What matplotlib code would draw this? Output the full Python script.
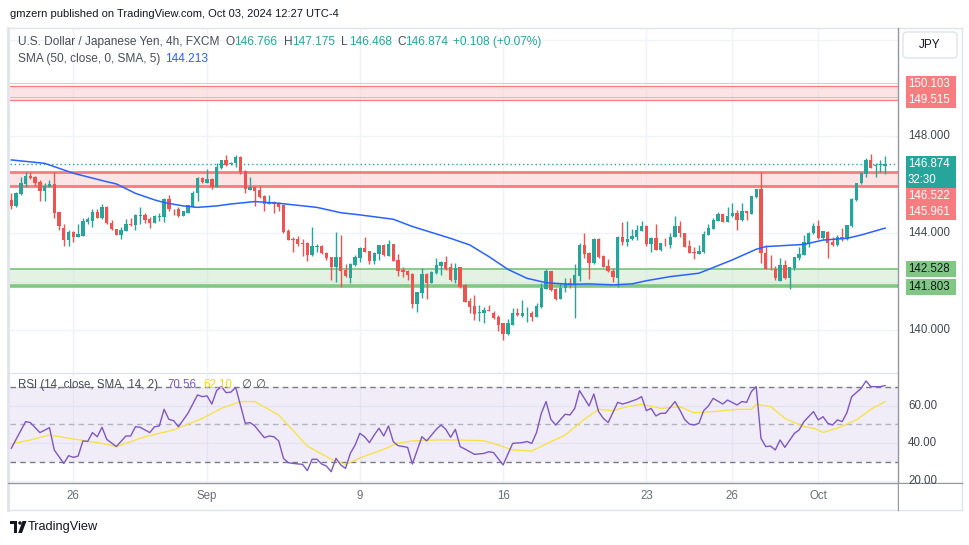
import numpy as np
import matplotlib
matplotlib.use("Agg")
from matplotlib import pyplot as plt
from matplotlib.patches import Rectangle, FancyBboxPatch, Polygon, Circle

plt.rcParams['font.family'] = ['Liberation Sans', 'DejaVu Sans']

# USD/JPY 4h candles (FXCM), oldest first
opens = [145.38, 145.13, 145.63, 146.04, 146.37, 146.34, 146.13, 145.76, 145.93, 146.04,
         144.87, 144.21, 143.72, 144.04, 143.86, 143.90, 144.48, 144.51, 144.88, 144.62,
         145.07, 144.44, 144.18, 143.93, 144.11, 144.39, 144.34, 144.73, 144.76, 144.59,
         144.44, 144.69, 144.69, 145.40, 145.02, 144.99, 144.73, 144.85, 145.13, 145.65,
         146.27, 146.09, 146.25, 145.93, 146.70, 147.03, 146.88, 146.89, 147.17, 146.59,
         145.79, 145.90, 145.79, 145.52, 145.20, 145.29, 145.27, 145.17, 144.11, 143.77,
         143.77, 143.60, 143.60, 143.10, 143.45, 143.48, 143.17, 143.01, 142.62, 143.01,
         142.48, 142.14, 142.69, 142.99, 143.39, 143.27, 142.87, 143.15, 143.52, 143.06,
         143.56, 142.90, 142.48, 142.46, 142.32, 141.08, 141.55, 142.32, 141.96, 142.37,
         142.66, 142.82, 142.60, 142.07, 142.60, 141.87, 141.20, 141.00, 140.72, 140.69,
         140.83, 140.72, 140.56, 140.28, 139.84, 140.21, 140.69, 140.60, 140.69, 140.72,
         140.56, 140.97, 141.71, 142.44, 141.69, 141.29, 141.73, 141.93, 141.87, 142.24,
         143.52, 143.20, 142.79, 143.75, 143.06, 142.65, 142.46, 142.17, 143.83, 143.66,
         143.75, 143.86, 144.11, 144.30, 143.56, 143.79, 143.31, 143.61, 143.52, 143.86,
         144.30, 144.00, 143.48, 143.24, 143.16, 143.23, 143.94, 144.19, 144.52, 144.80,
         144.48, 144.70, 144.84, 144.55, 144.90, 144.80, 145.49, 145.83, 143.17, 142.54,
         142.54, 142.04, 142.69, 142.14, 142.55, 142.97, 143.12, 143.61, 144.00, 144.30,
         143.81, 144.07, 143.66, 143.52, 143.83, 143.75, 144.32, 145.38, 146.07, 146.45,
         147.03, 146.80, 146.82, 146.766]
highs = [145.68, 145.72, 146.34, 146.55, 146.53, 146.37, 146.20, 146.07, 146.20, 146.55,
         144.87, 144.39, 144.14, 144.11, 144.39, 144.62, 144.69, 144.99, 144.99, 145.20,
         145.13, 144.55, 144.18, 144.25, 144.59, 144.62, 144.80, 145.10, 144.83, 144.69,
         144.76, 144.83, 145.47, 145.58, 145.02, 145.07, 144.94, 145.17, 145.76, 146.31,
         146.31, 146.64, 146.29, 146.92, 147.03, 147.24, 146.96, 147.24, 147.21, 146.62,
         146.31, 145.96, 145.96, 145.58, 145.58, 145.34, 145.31, 145.17, 144.17, 143.83,
         143.89, 143.75, 143.66, 144.26, 143.56, 143.50, 143.24, 143.04, 144.07, 143.93,
         142.73, 142.76, 143.10, 143.45, 143.83, 143.28, 143.24, 143.52, 143.56, 143.72,
         143.56, 143.15, 142.60, 142.48, 142.35, 141.56, 142.55, 142.35, 142.46, 142.97,
         142.87, 143.06, 142.79, 142.76, 142.62, 141.91, 141.31, 141.45, 141.02, 140.97,
         141.05, 140.80, 140.63, 140.31, 140.45, 140.90, 140.90, 141.25, 140.97, 140.80,
         141.13, 141.96, 142.51, 142.46, 141.73, 141.96, 142.14, 142.14, 142.73, 143.59,
         144.00, 143.24, 143.79, 143.79, 143.10, 142.93, 142.55, 143.89, 144.48, 144.51,
         144.18, 144.34, 144.51, 144.34, 143.83, 144.39, 143.61, 143.79, 144.00, 144.72,
         144.52, 144.03, 143.72, 143.45, 143.50, 144.11, 144.39, 144.62, 144.88, 144.80,
         145.10, 145.27, 144.95, 145.27, 144.94, 145.52, 145.83, 146.55, 143.52, 143.09,
         142.65, 142.99, 142.90, 142.62, 143.04, 143.42, 143.93, 144.07, 144.44, 144.55,
         144.10, 144.11, 143.83, 143.93, 144.21, 144.34, 145.45, 146.09, 146.55, 147.10,
         147.28, 146.89, 147.03, 147.175]
lows = [145.01, 145.07, 145.58, 145.90, 146.23, 145.96, 145.35, 145.35, 145.90, 144.65,
        144.14, 143.49, 143.49, 143.66, 143.83, 143.90, 144.39, 144.28, 144.62, 144.58,
        144.39, 144.14, 143.93, 143.75, 144.11, 144.30, 144.14, 144.39, 144.44, 144.23,
        144.41, 144.50, 144.48, 144.94, 144.76, 144.69, 144.72, 144.83, 145.10, 145.35,
        146.07, 146.07, 145.82, 145.93, 146.67, 146.80, 146.82, 146.73, 146.45, 145.68,
        145.79, 145.14, 145.46, 144.94, 145.20, 144.83, 144.90, 144.03, 143.72, 143.24,
        143.49, 143.08, 142.87, 143.08, 143.24, 143.15, 142.90, 142.07, 142.00, 141.80,
        142.21, 141.96, 142.65, 142.83, 143.21, 142.72, 142.72, 142.90, 143.06, 143.06,
        142.84, 142.24, 142.18, 142.07, 140.90, 140.76, 141.33, 141.30, 141.93, 142.32,
        142.29, 142.48, 142.03, 141.96, 141.75, 141.16, 140.69, 140.42, 140.38, 140.31,
        140.78, 140.46, 139.98, 139.59, 139.79, 140.21, 140.60, 140.56, 140.35, 140.39,
        140.53, 140.90, 141.71, 141.63, 141.25, 141.29, 141.59, 141.75, 140.49, 142.03,
        142.97, 142.10, 142.72, 142.99, 142.60, 142.40, 142.00, 141.80, 143.52, 143.49,
        143.72, 143.72, 144.08, 143.49, 143.21, 143.31, 143.27, 143.46, 143.41, 143.83,
        143.83, 143.42, 143.17, 142.93, 143.15, 143.20, 143.92, 144.17, 144.50, 144.47,
        144.45, 144.67, 144.14, 144.52, 144.54, 144.79, 145.47, 142.79, 142.51, 142.48,
        142.07, 142.04, 142.11, 141.69, 142.48, 142.90, 143.09, 143.42, 143.97, 143.78,
        143.78, 142.99, 143.49, 143.49, 143.70, 143.72, 144.28, 145.35, 146.04, 146.34,
        146.69, 146.34, 146.55, 146.468]
closes = [145.13, 145.68, 146.09, 146.37, 146.29, 146.09, 145.76, 145.96, 146.04, 144.85,
          144.32, 143.72, 144.04, 143.86, 143.97, 144.51, 144.58, 144.88, 144.65, 145.07,
          144.41, 144.17, 143.94, 144.14, 144.39, 144.33, 144.76, 144.76, 144.55, 144.44,
          144.72, 144.72, 145.40, 145.02, 144.99, 144.73, 144.90, 145.17, 145.68, 146.27,
          146.11, 146.25, 145.93, 146.73, 147.03, 146.84, 146.91, 147.17, 146.55, 145.82,
          145.90, 145.76, 145.49, 145.20, 145.31, 145.21, 145.10, 144.07, 143.72, 143.74,
          143.57, 143.57, 143.10, 143.48, 143.49, 143.17, 142.99, 142.62, 143.01, 142.46,
          142.24, 142.73, 143.04, 143.38, 143.24, 142.87, 143.17, 143.52, 143.10, 143.56,
          142.87, 142.46, 142.42, 142.28, 141.08, 141.56, 142.32, 141.96, 142.42, 142.69,
          142.82, 142.54, 142.07, 142.55, 141.80, 141.18, 140.97, 140.67, 140.75, 140.83,
          140.80, 140.52, 140.21, 139.84, 140.28, 140.69, 140.63, 140.69, 140.72, 140.56,
          141.00, 141.75, 142.44, 141.66, 141.29, 141.75, 141.93, 141.87, 142.28, 143.52,
          143.15, 142.79, 143.75, 143.04, 142.62, 142.43, 142.18, 143.86, 143.66, 143.75,
          143.89, 144.14, 144.30, 143.56, 143.79, 143.31, 143.59, 143.59, 143.86, 144.30,
          144.00, 143.45, 143.20, 143.17, 143.27, 143.97, 144.22, 144.55, 144.80, 144.48,
          144.73, 144.84, 144.55, 144.90, 144.83, 145.52, 145.83, 143.17, 142.51, 142.51,
          142.14, 142.69, 142.14, 142.60, 143.01, 143.15, 143.64, 144.03, 144.30, 143.81,
          144.10, 143.61, 143.52, 143.83, 143.75, 144.34, 145.42, 146.07, 146.48, 147.03,
          146.71, 146.82, 146.84, 146.874]

# SMA(50) line, sampled at candle indices
sma_idx = [0, 7, 13, 20, 22, 26, 30, 32, 36, 39, 43, 46, 51, 56, 64, 69, 73, 80, 84, 92,
           96, 100, 104, 108, 112, 117, 121, 126, 130, 133, 138, 144, 151, 156, 158, 166,
           170, 175, 178, 183]
sma_val = [147.03, 146.89, 146.48, 146.13, 146.04, 145.65, 145.38, 145.27, 145.13, 145.07,
           145.13, 145.21, 145.31, 145.24, 145.07, 144.85, 144.76, 144.58, 144.28, 143.79,
           143.52, 143.04, 142.51, 142.14, 141.96, 141.89, 141.91, 141.87, 141.91, 142.04,
           142.21, 142.35, 142.90, 143.34, 143.45, 143.54, 143.72, 143.79, 143.93, 144.213]

# RSI(14) and its SMA(14)
rsi_idx = [0, 3, 4, 6, 8, 9, 11, 12, 13, 14, 15, 16, 17, 18, 19, 20, 22, 24, 25, 26,
           27, 29, 30, 31, 32, 33, 34, 35, 36, 37, 39, 40, 41, 42, 43, 44, 45, 46, 47, 49,
           50, 51, 53, 54, 55, 56, 57, 58, 59, 61, 62, 63, 64, 65, 66, 67, 68, 69, 70, 71,
           72, 73, 74, 75, 76, 77, 78, 79, 80, 81, 83, 84, 86, 87, 89, 90, 91, 92, 93, 94,
           95, 97, 99, 100, 101, 103, 105, 107, 108, 109, 110, 111, 112, 113, 114, 116, 117, 118, 119, 121,
           122, 123, 124, 125, 127, 128, 129, 131, 132, 133, 134, 135, 136, 137, 139, 140, 141, 142, 143, 144,
           145, 146, 147, 149, 150, 152, 153, 154, 155, 156, 157, 158, 159, 160, 161, 162, 164, 165, 166, 168,
           169, 170, 171, 172, 173, 174, 175, 176, 178, 179, 180, 182, 183]
rsi_val = [37.4, 51.5, 51.0, 45.7, 48.3, 36.5, 29.4, 33.5, 32.6, 33.3, 41.3, 41.0, 45.7, 43.5, 48.5, 42.1, 38.3, 43.9, 43.9, 48.8,
           48.5, 45.7, 48.8, 49.2, 58.0, 52.7, 52.0, 48.8, 52.4, 55.9, 65.6, 64.7, 65.1, 60.8, 67.9, 70.0, 66.8, 67.1, 69.6, 50.6,
           51.0, 49.2, 43.0, 43.9, 43.5, 41.3, 32.1, 29.8, 29.4, 28.9, 25.6, 31.6, 31.6, 29.1, 28.0, 25.0, 32.1, 28.6, 26.8, 34.7,
           39.1, 45.3, 43.5, 40.4, 44.4, 48.0, 43.9, 49.2, 40.9, 38.8, 37.9, 29.1, 43.5, 41.3, 47.4, 49.7, 47.4, 43.2, 47.4, 38.3,
           37.0, 34.2, 34.7, 35.6, 35.1, 28.6, 40.0, 40.4, 41.0, 40.0, 45.7, 55.9, 62.1, 52.7, 49.7, 55.4, 55.0, 58.5, 67.9, 59.8,
           66.1, 56.8, 53.2, 51.0, 61.7, 60.8, 61.5, 63.3, 64.7, 57.3, 58.5, 54.5, 55.9, 55.9, 62.1, 57.7, 52.7, 50.2, 49.7, 50.6,
           57.3, 59.8, 63.8, 60.8, 62.9, 60.3, 62.1, 61.7, 67.4, 70.0, 42.7, 38.3, 38.6, 36.5, 41.8, 37.9, 45.3, 47.1, 51.5, 56.8,
           52.4, 54.1, 50.6, 49.7, 52.4, 51.5, 56.2, 64.7, 69.1, 73.0, 70.0, 70.0, 70.56]
rsi_ma_idx = [0, 4, 8, 12, 19, 22, 28, 34, 40, 44, 48, 51, 56, 62, 67, 70, 74, 78, 81, 84,
              89, 93, 99, 102, 105, 109, 113, 116, 120, 123, 126, 129, 132, 136, 140, 143, 147, 152, 155, 156,
              159, 162, 166, 168, 170, 173, 177, 180, 183]
rsi_ma_val = [39.7, 41.8, 44.4, 42.7, 40.0, 38.3, 43.5, 47.1, 53.2, 58.5, 62.1, 62.1, 55.0, 38.6, 31.6, 28.9, 33.3, 36.8, 40.2, 41.3,
              41.8, 41.8, 41.4, 39.1, 36.5, 36.0, 40.9, 44.4, 52.7, 58.0, 57.3, 59.4, 60.7, 58.5, 59.4, 56.2, 56.8, 58.0, 58.0, 60.7,
              59.5, 53.2, 48.8, 48.0, 45.8, 48.0, 52.4, 58.0, 62.1]

# horizontal zones drawn on the chart
zone_top = (149.515, 150.103)
zone_mid = (145.961, 146.522)
zone_low = (141.803, 142.528)

date_idx = [13, 41, 73, 103, 133, 151, 169]
date_lbl = ['26', 'Sep', '9', '16', '23', '26', 'Oct']

title = "U.S. Dollar / Japanese Yen, 4h, FXCM"
change_txt = "+0.108 (+0.07%)"
sma_txt = "SMA (50, close, 0, SMA, 5)"
rsi_txt = "RSI (14, close, SMA, 14, 2)"
publisher = "gmzern published on TradingView.com, Oct 03, 2024 12:27 UTC-4"
countdown = "32:30"

UP = '#26a69a'
DN = '#ef5350'
ZRED = '#f77c80'
ZGREEN = '#81c784'
GRID = '#f0f3fa'
TXT = '#131722'
GREY = '#4a4d58'

W, H = 970.0, 545.0


def rect(x0, y0, x1, y1):
    # pixel box (origin top-left) -> figure fraction rect
    return [x0 / W, 1 - y1 / H, (x1 - x0) / W, (y1 - y0) / H]


fig = plt.figure(figsize=(9.7, 5.45), dpi=100)
fig.patch.set_facecolor('white')

xlim = (-0.27, 185.7)

# ---- price pane
ax = fig.add_axes(rect(10, 28, 898, 372))
ax.set_xlim(*xlim)
ax.set_ylim(138.27, 152.48)
ax.axis('off')
for p in np.arange(138, 153, 2):
    ax.axhline(p, color=GRID, lw=1, zorder=0)
ax.vlines(date_idx, 138.27, 152.48, color=GRID, lw=1, zorder=0)

ax.axhspan(*zone_top, color='#f9c5c7', alpha=0.45, lw=0, zorder=1)
ax.axhspan(*zone_mid, color='#f9c5c7', alpha=0.45, lw=0, zorder=1)
ax.axhspan(*zone_low, color='#b9dfb9', alpha=0.4, lw=0, zorder=1)
for p in zone_top:
    ax.axhline(p, color=ZRED, lw=0.9, zorder=2)
    ax.axhline(p + 0.1, color=ZRED, lw=0.6, alpha=0.6, zorder=2)
for p in zone_mid:
    ax.axhline(p, color=ZRED, lw=2, zorder=2)
ax.axhline(zone_low[1], color=ZGREEN, lw=1.3, zorder=2)
ax.axhline(zone_low[0], color=ZGREEN, lw=2.6, zorder=2)

ax.axhline(closes[-1], color=UP, lw=1, ls=(0, (1, 2)), zorder=2)

o = np.array(opens)
h = np.array(highs)
l = np.array(lows)
c = np.array(closes)
x = np.arange(len(o))
cols = np.where(c >= o, UP, DN)
ax.vlines(x, l, h, colors=cols, lw=1, zorder=3)
ax.bar(x, np.maximum(np.abs(c - o), 0.025), bottom=np.minimum(o, c), width=0.7,
       color=cols, lw=0, zorder=4)
ax.plot(sma_idx, sma_val, color='#2962ff', lw=1.1, zorder=5)

# ---- RSI pane
rx = fig.add_axes(rect(10, 373, 898, 483))
rx.set_xlim(*xlim)
rx.set_ylim(19.05, 77.2)
rx.axis('off')
for r in (20, 40, 60):
    rx.axhline(r, color=GRID, lw=1, zorder=0)
rx.vlines(date_idx, 19.05, 77.2, color=GRID, lw=1, zorder=0)
rx.axhspan(30, 70, color='#7e57c2', alpha=0.1, lw=0, zorder=1)
rx.axhline(70, color='#787b86', lw=1, ls=(0, (4, 3)), zorder=2)
rx.axhline(50, color='#b2b5be', lw=1, ls=(0, (4, 3)), zorder=2)
rx.axhline(30, color='#787b86', lw=1, ls=(0, (4, 3)), zorder=2)
rx.plot(rsi_ma_idx, rsi_ma_val, color='#f7e24a', lw=1, zorder=3)
rx.plot(rsi_idx, rsi_val, color='#7e57c2', lw=1, zorder=4)

# ---- overlay in pixel coords: frame, texts, price scale
ov = fig.add_axes([0, 0, 1, 1], zorder=10)
ov.set_xlim(0, W)
ov.set_ylim(H, 0)
ov.axis('off')


def py(p):
    return H - ax.transData.transform((0, p))[1]


def ry(r):
    return H - rx.transData.transform((0, r))[1]


ov.plot([8, 962], [28, 28], color='#e0e3eb', lw=1)
ov.plot([8, 962], [510, 510], color='#e0e3eb', lw=1)
ov.plot([8.5, 8.5], [28, 510], color='#e0e3eb', lw=2)
ov.plot([962, 962], [28, 510], color='#e0e3eb', lw=1)
ov.plot([8, 898], [372.5, 372.5], color='#e0e3eb', lw=1)
ov.plot([898, 898], [28, 510], color='#9598a1', lw=1)
ov.plot([8, 962], [483, 483], color='#9598a1', lw=1)

fs = 8.3
ov.text(10, 14, publisher, color=TXT, fontsize=8.0, va='center')

# legend lines
ov.text(18, 42, title, color=GREY, fontsize=8.6, va='center')
seg = [('O', 226), ('H', 284), ('L', 341), ('C', 397)]
vals = [opens[-1], highs[-1], lows[-1], closes[-1]]
for (k, xx), v in zip(seg, vals):
    ov.text(xx, 42, k, color=GREY, fontsize=8.6, va='center')
    ov.text(xx + 8, 42, '%.3f' % v, color=UP, fontsize=8.6, va='center')
ov.text(453, 42, change_txt, color=UP, fontsize=8.6, va='center')
ov.text(18, 59, sma_txt, color=GREY, fontsize=8.6, va='center')
ov.text(165, 59, '%.3f' % sma_val[-1], color='#2962ff', fontsize=8.6, va='center')

ov.text(18, 385, rsi_txt, color=GREY, fontsize=fs, va='center')
ov.text(167, 385, '%.2f' % rsi_val[-1], color='#7e57c2', fontsize=fs, va='center')
ov.text(203, 385, '%.2f' % rsi_ma_val[-1], color='#f5d90a', fontsize=fs, va='center')
ov.text(241, 385, '\u2205', color=GREY, fontsize=fs, va='center')
ov.text(255, 385, '\u2205', color=GREY, fontsize=fs, va='center')

# JPY button
ov.add_patch(FancyBboxPatch((903, 32), 54, 26, boxstyle='round,pad=0,rounding_size=4',
                            fc='white', ec='#e0e3eb', lw=1))
ov.text(930, 45, 'JPY', color=TXT, fontsize=8.5, ha='center', va='center')

# plain scale labels
for p in (148, 144, 140):
    ov.text(908, py(p), '%.3f' % p, color='#434651', fontsize=fs, va='center')
for r in (60, 40, 20):
    ov.text(908, ry(r), '%.2f' % r, color='#434651', fontsize=fs, va='center')
ov.add_patch(Rectangle((899, 483.5), 62, 26, fc='white', ec='none', zorder=5))


def tag(yc, text, fc, tc):
    ov.add_patch(Rectangle((906, yc - 8), 50, 16, fc=fc, ec='none', zorder=4))
    ov.text(908, yc, text, color=tc, fontsize=fs, va='center', zorder=6)


mid_top = (py(zone_top[0]) + py(zone_top[1])) / 2
tag(mid_top - 8.5, '%.3f' % zone_top[1], ZRED, 'white')
tag(mid_top + 7.5, '%.3f' % zone_top[0], ZRED, 'white')
yc = py(closes[-1])
tag(yc, '%.3f' % closes[-1], UP, 'white')
tag(yc + 16, countdown, UP, 'white')
tag(yc + 32.5, '%.3f' % zone_mid[1], ZRED, 'white')
tag(yc + 48.5, '%.3f' % zone_mid[0], ZRED, 'white')
tag(py(zone_low[1]), '%.3f' % zone_low[1], ZGREEN, TXT)
tag(py(zone_low[0]) + 1, '%.3f' % zone_low[0], ZGREEN, TXT)

# time scale
for i, s in zip(date_idx, date_lbl):
    xp = ax.transData.transform((i, 0))[0]
    ov.text(xp, 496, s, color='#6a6d78', fontsize=fs, ha='center', va='center')

# TradingView logo
ov.add_patch(Rectangle((10, 521), 7.5, 3.2, fc=TXT, ec='none'))
ov.add_patch(Rectangle((13.8, 521), 3.7, 12, fc=TXT, ec='none'))
ov.add_patch(Circle((20, 523), 1.7, fc=TXT, ec='none'))
ov.add_patch(Polygon([[22.5, 521], [26.5, 521], [22, 533], [18.2, 533]], closed=True, fc=TXT, ec='none'))
ov.text(28, 527, 'TradingView', color=TXT, fontsize=9.2, va='center')

fig.savefig('out.png', dpi=100)
